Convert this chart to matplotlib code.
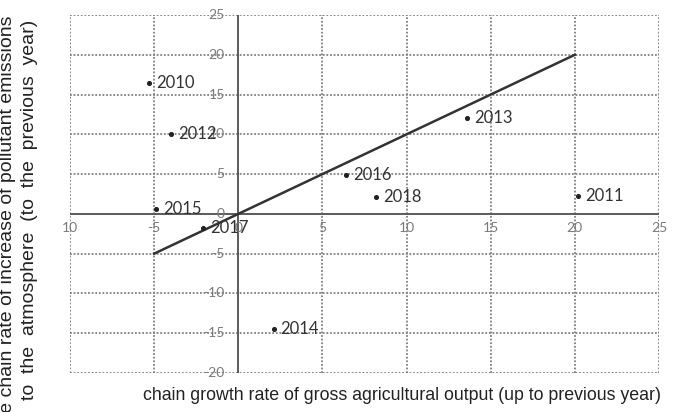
import numpy as np
import matplotlib
matplotlib.use("Agg")
import matplotlib.pyplot as plt

# chain growth of gross agricultural output vs chain growth of emissions
years = ["2010", "2011", "2012", "2013", "2014", "2015", "2016", "2017", "2018"]
agri_growth = [-5.3, 20.2, -4.0, 13.6, 2.1, -4.9, 6.4, -2.1, 8.2]
emission_growth = [16.4, 2.3, 10.1, 12.1, -14.5, 0.6, 4.9, -1.8, 2.1]

trend_x = [-5, 20]
trend_y = [-5, 20]

x_ticks = [-10, -5, 0, 5, 10, 15, 20, 25]
x_tick_labels = ["10", "-5", "0", "5", "10", "15", "20", "25"]
y_ticks = [25, 20, 15, 10, 5, 0, -5, -10, -15, -20]

fig = plt.figure(figsize=(6.74, 4.12), dpi=100)
ax = fig.add_axes([70 / 674, 39 / 412, 589 / 674, 358 / 412])
ax.set_xlim(-10, 25)
ax.set_ylim(-20, 25)

grid_col = "#808080"
dot = (0, (1, 1))
for xv in x_ticks:
    if xv != 0:
        ax.axvline(xv, color=grid_col, lw=1.3, ls=dot, zorder=1)
for yv in y_ticks:
    if yv != 0:
        ax.axhline(yv, color=grid_col, lw=1.3, ls=dot, zorder=1)
ax.axvline(0, color="#5a5a5a", lw=1.4, zorder=2)
ax.axhline(0, color="#5a5a5a", lw=1.4, zorder=2)

for s in ax.spines.values():
    s.set_visible(False)
ax.set_xticks([])
ax.set_yticks([])

tick_font = dict(family=["Lato", "DejaVu Sans"], fontsize=10, color="#7a7a7a")
for xv, lab in zip(x_ticks, x_tick_labels):
    ax.text(xv, -1.8, lab, ha="center", va="center", zorder=3, **tick_font)
for yv in y_ticks:
    ax.text(-0.8, yv, str(yv), ha="right", va="center", zorder=3, **tick_font)

ax.plot(trend_x, trend_y, color="#333333", lw=1.8, zorder=4)

ax.scatter(agri_growth, emission_growth, s=7, color="#222222", zorder=5)
for x, y, yr in zip(agri_growth, emission_growth, years):
    ax.annotate(yr, (x, y), xytext=(5, 0), textcoords="offset points",
                ha="left", va="center", fontsize=12, color="#333333",
                family=["Lato", "DejaVu Sans"], zorder=5)

lab_font = dict(family=["Liberation Sans", "DejaVu Sans"], color="#222222")
fig.text(402 / 674, 1 - 395 / 412,
         "chain growth rate of gross agricultural output (up to previous year)",
         ha="center", va="center", fontsize=12.8, **lab_font)
fig.text(8 / 674, 1 - 222 / 412,
         "the chain rate of increase of pollutant emissions",
         rotation=90, ha="center", va="center", fontsize=14, **lab_font)
fig.text(30 / 674, 1 - 210 / 412,
         "to  the  atmosphere  (to  the  previous  year)",
         rotation=90, ha="center", va="center", fontsize=14, **lab_font)

fig.savefig("out.png", dpi=100)
